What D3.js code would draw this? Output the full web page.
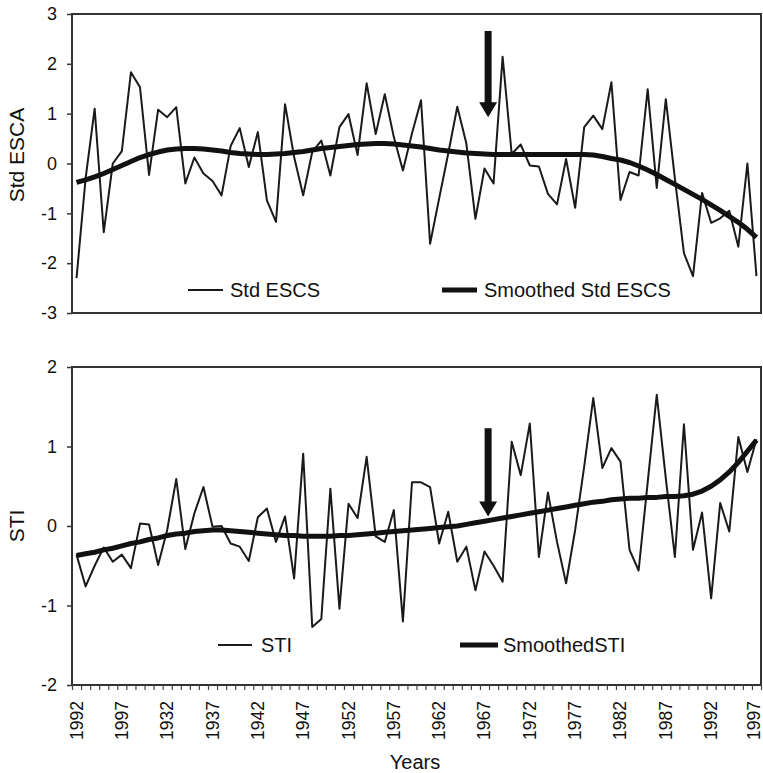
<!DOCTYPE html>
<html>
  <head>
    <meta charset="utf-8">
    <title>Std ESCS and STI</title>
    <style>
      body { margin: 0; background: #fff; }
      svg { font-family: "Liberation Sans", Arial, sans-serif; }
      .frame { fill: none; stroke: #333; stroke-width: 2px; }
      .raw { fill: none; stroke: #1a1a1a; stroke-width: 2px; stroke-linejoin: round; }
      .smooth { fill: none; stroke: #111; stroke-width: 5px; stroke-linejoin: round; }
      .tick text { font-size: 18px; fill: #111; }
    </style>
  </head>
  <body>
    <svg width="763" height="773"></svg>
    <script src="https://d3js.org/d3.v7.min.js"></script>
    <script>
      // categories (one per year)
      const years = [1922,1923,1924,1925,1926,1927,1928,1929,1930,1931,1932,1933,1934,1935,1936,1937,1938,1939,
        1940,1941,1942,1943,1944,1945,1946,1947,1948,1949,1950,1951,1952,1953,1954,1955,1956,1957,1958,1959,
        1960,1961,1962,1963,1964,1965,1966,1967,1968,1969,1970,1971,1972,1973,1974,1975,1976,1977,1978,1979,
        1980,1981,1982,1983,1984,1985,1986,1987,1988,1989,1990,1991,1992,1993,1994,1995,1996,1997];

      // labels as printed on the axis, one every 5 categories
      const tickLabels = ["1992","1997","1932","1937","1942","1947","1952","1957","1962","1967",
        "1972","1977","1982","1987","1992","1997"];

      const stdEscs = [-2.3,-0.3,1.1,-1.38,0.0,0.25,1.83,1.53,-0.23,1.08,0.93,1.13,-0.4,0.12,-0.2,-0.35,
        -0.64,0.35,0.71,-0.07,0.63,-0.74,-1.17,1.19,0.13,-0.64,0.23,0.46,-0.24,0.73,0.99,0.17,1.61,0.59,
        1.39,0.53,-0.14,0.6,1.27,-1.61,-0.7,0.2,1.14,0.4,-1.11,-0.1,-0.4,2.14,0.19,0.38,-0.04,-0.06,-0.61,
        -0.82,0.09,-0.89,0.73,0.96,0.69,1.63,-0.73,-0.17,-0.24,1.49,-0.49,1.29,-0.3,-1.8,-2.26,-0.59,-1.19,
        -1.1,-0.95,-1.67,0.0,-2.26];

      const smoothEscs = [-0.38,-0.33,-0.27,-0.2,-0.12,-0.04,0.04,0.12,0.18,0.23,0.27,0.29,0.3,0.3,0.29,
        0.27,0.25,0.22,0.2,0.19,0.18,0.18,0.19,0.2,0.22,0.24,0.27,0.3,0.32,0.34,0.36,0.38,0.39,0.4,0.4,
        0.39,0.37,0.35,0.33,0.3,0.27,0.25,0.23,0.21,0.2,0.19,0.18,0.18,0.18,0.18,0.18,0.18,0.18,0.18,0.18,
        0.18,0.18,0.17,0.14,0.1,0.07,0.02,-0.05,-0.13,-0.22,-0.32,-0.42,-0.52,-0.62,-0.72,-0.83,-0.94,
        -1.06,-1.18,-1.32,-1.48];

      const sti = [-0.36,-0.76,-0.5,-0.27,-0.45,-0.36,-0.53,0.03,0.02,-0.49,-0.05,0.59,-0.29,0.16,0.49,
        -0.01,0.0,-0.22,-0.26,-0.44,0.11,0.22,-0.2,0.12,-0.66,0.91,-1.27,-1.17,0.47,-1.04,0.28,0.1,0.87,
        -0.13,-0.2,0.2,-1.2,0.55,0.55,0.49,-0.22,0.18,-0.45,-0.26,-0.81,-0.32,-0.5,-0.7,1.06,0.64,1.29,
        -0.39,0.42,-0.2,-0.72,-0.05,0.75,1.61,0.73,0.98,0.81,-0.3,-0.56,0.55,1.65,0.6,-0.39,1.28,-0.3,0.17,
        -0.91,0.29,-0.07,1.12,0.68,1.09];

      const smoothSti = [-0.37,-0.35,-0.33,-0.3,-0.28,-0.25,-0.22,-0.2,-0.17,-0.15,-0.12,-0.1,-0.09,-0.07,
        -0.06,-0.05,-0.05,-0.06,-0.07,-0.08,-0.09,-0.1,-0.11,-0.12,-0.12,-0.13,-0.13,-0.13,-0.13,-0.12,
        -0.12,-0.11,-0.1,-0.09,-0.08,-0.07,-0.06,-0.05,-0.04,-0.03,-0.02,-0.01,0.0,0.02,0.04,0.06,0.08,
        0.1,0.12,0.14,0.16,0.18,0.2,0.22,0.24,0.26,0.28,0.3,0.31,0.33,0.34,0.35,0.35,0.36,0.36,0.37,0.37,
        0.38,0.4,0.44,0.5,0.58,0.68,0.8,0.94,1.08];

      // arrow annotation (category position, start and tip values)
      const arrowAt = 45.4;
      const arrowTop = [2.66, 0.93];
      const arrowBottom = [1.23, 0.12];

      const svg = d3.select("svg");
      const left = 72, right = 761;

      const x = d3.scaleLinear().domain([-0.5, years.length - 0.5]).range([left, right]);

      const panels = [
        { top: 14, bottom: 313, domain: [-3, 3], ticks: [-3,-2,-1,0,1,2,3], raw: stdEscs, smooth: smoothEscs,
          title: "Std ESCA", titleY: 155, arrow: arrowTop,
          legend: [{ label: "Std ESCS", cls: "raw", x1: 188, x2: 223, tx: 230 },
                   { label: "Smoothed Std ESCS", cls: "smooth", x1: 442, x2: 477, tx: 484 }],
          legendY: 290 },
        { top: 367, bottom: 685, domain: [-2, 2], ticks: [-2,-1,0,1,2], raw: sti, smooth: smoothSti,
          title: "STI", titleY: 526, arrow: arrowBottom,
          legend: [{ label: "STI", cls: "raw", x1: 218, x2: 252, tx: 261 },
                   { label: "SmoothedSTI", cls: "smooth", x1: 460, x2: 498, tx: 503 }],
          legendY: 645 }
      ];

      panels.forEach((p, k) => {
        const y = d3.scaleLinear().domain(p.domain).range([p.bottom, p.top]);
        const g = svg.append("g");

        const yAxis = g.append("g")
          .attr("transform", `translate(${left},0)`)
          .call(d3.axisLeft(y).tickValues(p.ticks).tickSize(5).tickPadding(10).tickFormat(d => String(d)));
        yAxis.select(".domain").remove();
        yAxis.selectAll("line").attr("stroke", "#333").attr("stroke-width", 1.5);

        g.append("rect").attr("class", "frame")
          .attr("x", left).attr("y", p.top)
          .attr("width", right - left).attr("height", p.bottom - p.top);

        const line = d3.line().x((d, i) => x(i)).y(d => y(d));
        g.append("path").attr("class", "raw").attr("d", line(p.raw));
        g.append("path").attr("class", "smooth").attr("d", line(p.smooth));

        // arrow
        const ax = x(arrowAt), y0 = y(p.arrow[0]), y1 = y(p.arrow[1]);
        const hh = 15;
        g.append("path")
          .attr("fill", "#111")
          .attr("d", `M${ax - 3.5},${y0} L${ax + 3.5},${y0} L${ax + 3.5},${y1 - hh} L${ax + 9},${y1 - hh}
                      L${ax},${y1} L${ax - 9},${y1 - hh} L${ax - 3.5},${y1 - hh} Z`);

        // legend
        p.legend.forEach(l => {
          g.append("line").attr("class", l.cls)
            .attr("x1", l.x1).attr("x2", l.x2).attr("y1", p.legendY).attr("y2", p.legendY);
          g.append("text").attr("x", l.tx).attr("y", p.legendY + 7)
            .attr("font-size", 20).attr("fill", "#111").text(l.label);
        });

        // y title
        g.append("text")
          .attr("transform", `translate(24,${p.titleY}) rotate(-90)`)
          .attr("text-anchor", "middle").attr("font-size", 21).attr("fill", "#111")
          .text(p.title);

        if (k === 1) {
          const xAxis = g.append("g")
            .attr("transform", `translate(0,${p.bottom})`)
            .call(d3.axisBottom(x).tickValues(d3.range(-0.5, years.length, 1)).tickSize(5).tickFormat(""));
          xAxis.select(".domain").remove();
          xAxis.selectAll("line").attr("stroke", "#444").attr("stroke-width", 1.2);

          g.selectAll(".xlab")
            .data(tickLabels)
            .join("text")
            .attr("class", "xlab")
            .attr("transform", (d, i) => `translate(${Math.min(x(i * 5) + 6, 760)},701) rotate(-90)`)
            .attr("text-anchor", "end").attr("font-size", 17.5).attr("fill", "#111")
            .text(d => d);

          g.append("text").attr("x", 415).attr("y", 769)
            .attr("text-anchor", "middle").attr("font-size", 20).attr("fill", "#111")
            .text("Years");
        }
      });
    </script>
  </body>
</html>
